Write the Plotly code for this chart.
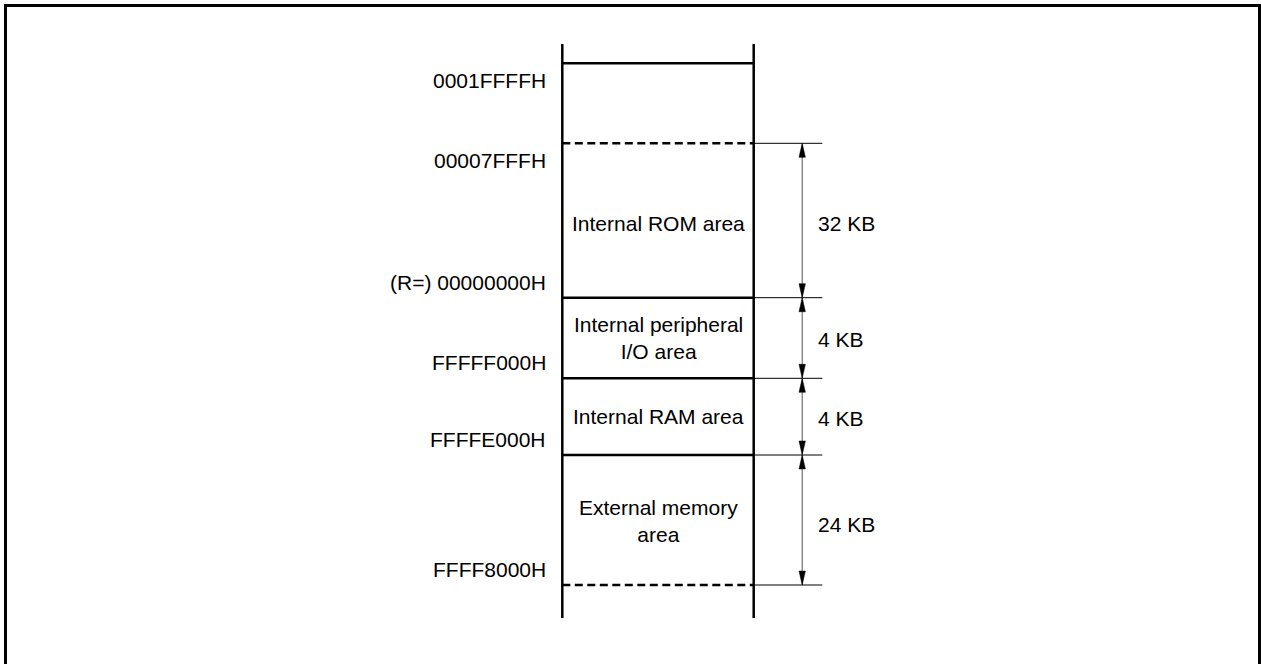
import plotly.graph_objects as go
import numpy as np

# ---------------- data ----------------
addr_labels = ["0001FFFFH", "00007FFFH", "(R=) 00000000H",
               "FFFFF000H", "FFFFE000H", "FFFF8000H"]
addr_side = ["below", "below", "above", "above", "above", "above"]
boundary_style = ["solid", "dash", "solid", "solid", "solid", "dash"]
region_names = ["", "Internal ROM area", "Internal peripheral<br>I/O area",
                "Internal RAM area", "External memory<br>area"]
region_sizes_kb = [None, 32, 4, 4, 24]

# ---------------- layout (display units, drawing scale) ----------------
W, H = 1261, 664
top_y = 63.3
row_heights = [80, 154.4, 80.6, 76.7, 130]   # display height of each row
name_shift = [0, -3, 0, 0, -1]                # fine vertical offsets (px)
size_shift = [0, -3, -1, -2, -4]
col_left, col_right = 562.3, 753.7
col_top, col_bottom = 44, 618
ext_end = 822.3
arrow_x = 802.2
addr_x = 548
size_x = 816
font = dict(family="Liberation Sans, Arial, sans-serif", size=21, color="black")

bounds = top_y + np.concatenate([[0], np.cumsum(row_heights)])

shapes = []
annotations = []

# outer frame
shapes.append(dict(type="rect", xref="x", yref="y", x0=5.5, x1=1259.5, y0=5.5, y1=720,
                   line=dict(color="black", width=3), fillcolor="rgba(0,0,0,0)"))

# column sides
for x in (col_left, col_right):
    shapes.append(dict(type="line", xref="x", yref="y", x0=x, x1=x,
                       y0=col_top, y1=col_bottom, line=dict(color="black", width=2.5)))

# boundaries
for i, (y, st) in enumerate(zip(bounds, boundary_style)):
    shapes.append(dict(type="line", xref="x", yref="y", x0=col_left, x1=col_right,
                       y0=y, y1=y,
                       line=dict(color="black", width=2.5,
                                 dash="solid" if st == "solid" else "8px,4.5px")))
    if i >= 1:
        shapes.append(dict(type="line", xref="x", yref="y", x0=col_right, x1=ext_end,
                           y0=y, y1=y, line=dict(color="black", width=1)))

# address labels
for lab, y, side in zip(addr_labels, bounds, addr_side):
    annotations.append(dict(x=addr_x, y=y, xref="x", yref="y", text=lab,
                            showarrow=False, xanchor="right",
                            yanchor="top" if side == "below" else "bottom",
                            yshift=-4 if side == "below" else 2, font=font))

# region names, size arrows and labels
head_len, head_half = 14, 3.2
for i, (name, kb) in enumerate(zip(region_names, region_sizes_kb)):
    y0, y1 = bounds[i], bounds[i + 1]
    ym = (y0 + y1) / 2
    if name:
        annotations.append(dict(x=(col_left + col_right) / 2, y=ym, xref="x", yref="y",
                                text=name, showarrow=False, xanchor="center",
                                yanchor="middle", yshift=name_shift[i], font=font))
    if kb is not None:
        shapes.append(dict(type="line", xref="x", yref="y", x0=arrow_x, x1=arrow_x,
                           y0=y0, y1=y1, line=dict(color="#555555", width=1)))
        for tip, base in ((y0, y0 + head_len), (y1, y1 - head_len)):
            path = (f"M {arrow_x},{tip} L {arrow_x - head_half},{base} "
                    f"L {arrow_x + head_half},{base} Z")
            shapes.append(dict(type="path", xref="x", yref="y", path=path,
                               fillcolor="black", line=dict(color="black", width=0.5)))
        annotations.append(dict(x=size_x, y=ym, xref="x", yref="y", text=f"{kb} KB",
                                showarrow=False, xanchor="left", yanchor="middle",
                                yshift=size_shift[i], font=font))

fig = go.Figure()
fig.add_trace(go.Scatter(x=[0, W], y=[0, H], mode="markers",
                         marker=dict(opacity=0), hoverinfo="skip", showlegend=False))
fig.update_layout(
    width=W, height=H, margin=dict(l=0, r=0, t=0, b=0),
    paper_bgcolor="white", plot_bgcolor="white",
    xaxis=dict(range=[0, W], visible=False, fixedrange=True),
    yaxis=dict(range=[H, 0], visible=False, fixedrange=True),
    shapes=shapes, annotations=annotations, showlegend=False,
)
fig.write_html("out.html", config={"displayModeBar": False},
               post_script="document.body.style.margin='0';document.body.style.overflow='hidden';")
